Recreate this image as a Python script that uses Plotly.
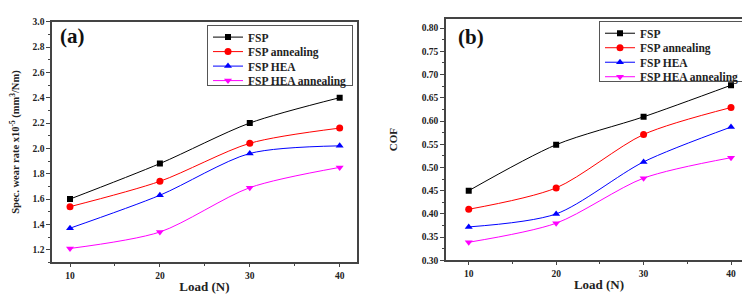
import plotly.graph_objects as go

loads = [10, 20, 30, 40]
series_names = ["FSP", "FSP annealing", "FSP HEA", "FSP HEA annealing"]
wear_fsp = [1.60, 1.88, 2.20, 2.40]
wear_fsp_ann = [1.54, 1.74, 2.04, 2.16]
wear_hea = [1.37, 1.63, 1.96, 2.02]
wear_hea_ann = [1.21, 1.34, 1.69, 1.85]
cof_fsp = [0.450, 0.549, 0.609, 0.677]
cof_fsp_ann = [0.410, 0.456, 0.571, 0.629]
cof_hea = [0.372, 0.400, 0.512, 0.587]
cof_hea_ann = [0.339, 0.380, 0.477, 0.521]

colors = ["#000000", "#ff0000", "#0000ff", "#ff00ff"]
symbols = ["square", "circle", "triangle-up", "triangle-down"]
sizes = [6, 7, 7, 7]
FONT = "Liberation Serif"

fig = go.Figure()
for i, ys in enumerate([wear_fsp, wear_fsp_ann, wear_hea, wear_hea_ann]):
    fig.add_trace(go.Scatter(
        x=loads, y=ys, name=series_names[i], mode="lines+markers",
        line=dict(color=colors[i], width=1, shape="spline", smoothing=0.8),
        marker=dict(color=colors[i], symbol=symbols[i], size=sizes[i]),
        xaxis="x", yaxis="y", legend="legend"))
for i, ys in enumerate([cof_fsp, cof_fsp_ann, cof_hea, cof_hea_ann]):
    fig.add_trace(go.Scatter(
        x=loads, y=ys, name=series_names[i], mode="lines+markers",
        line=dict(color=colors[i], width=1, shape="spline", smoothing=0.8),
        marker=dict(color=colors[i], symbol=symbols[i], size=sizes[i]),
        xaxis="x2", yaxis="y2", legend="legend2"))

axis_common = dict(
    showline=True, linecolor="#444444", linewidth=1.5, mirror=True,
    ticks="outside", tickwidth=1, tickcolor="#444444",
    showgrid=False, zeroline=False,
    tickfont=dict(family=FONT, size=9.5, color="#222222", weight="bold"),
    minor=dict(ticks="outside", ticklen=2, tickcolor="#444444"),
)
title_font = dict(family=FONT, size=13, color="#222222", weight="bold")
legend_font = dict(family=FONT, size=11.5, color="#222222", weight="bold")

fig.update_layout(
    width=750, height=299,
    margin=dict(l=0, r=0, t=0, b=0),
    paper_bgcolor="white", plot_bgcolor="white",
    font=dict(family=FONT, color="#222222"),
    xaxis=dict(domain=[0.0587, 0.465], range=[8, 41.9], tickvals=loads, anchor="y", ticklen=3,
               title=dict(text="Load (N)", font=title_font, standoff=2),
               minor_dtick=5, **axis_common),
    yaxis=dict(domain=[0.137, 0.970], range=[1.1, 3.0], dtick=0.2, tickformat=".1f", anchor="x", ticklen=4,
               title=dict(text="Spec. wear rate x10<sup>-5</sup> (mm<sup>3</sup>/Nm)",
                          font=dict(family=FONT, size=10.5, color="#222222", weight="bold"),
                          standoff=14),
               minor_dtick=0.1, **axis_common),
    xaxis2=dict(domain=[0.584, 0.992], range=[7.4, 42.4], tickvals=loads, anchor="y2", ticklen=3,
                title=dict(text="Load (N)", font=title_font, standoff=2),
                minor_dtick=5, **axis_common),
    yaxis2=dict(domain=[0.144, 0.980], range=[0.30, 0.82], dtick=0.05, tickformat=".2f", anchor="x2", ticklen=4,
                title=dict(text="COF", font=dict(family=FONT, size=11, color="#222222", weight="bold"),
                           standoff=22),
                minor_dtick=0.025, **axis_common),
    legend=dict(x=345/750, y=1-12/299, xanchor="right", yanchor="top",
                bgcolor="white", bordercolor="#555555", borderwidth=1, itemwidth=30,
                font=legend_font, tracegroupgap=0),
    legend2=dict(x=737/750, y=1-8/299, xanchor="right", yanchor="top",
                 bgcolor="white", bordercolor="#555555", borderwidth=1, itemwidth=30,
                 font=legend_font, tracegroupgap=0),
    annotations=[
        dict(text="(a)", x=50/750, y=1-24/299, xref="paper", yref="paper",
             xanchor="left", yanchor="middle", showarrow=False,
             font=dict(family=FONT, size=21, color="#111111", weight="bold")),
        dict(text="(b)", x=448/750, y=1-25/299, xref="paper", yref="paper",
             xanchor="left", yanchor="middle", showarrow=False,
             font=dict(family=FONT, size=21, color="#111111", weight="bold")),
    ],
)

# Tighten legend rows to the reference's compact spacing (plotly's minimum row is 19 px).
post_js = """
(function(){
  var gd = document.getElementById('{plot_id}');
  if(!gd) return;
  var STEP = 14.5, SHIFT = -3, SHRINK = 27;
  function fix(){
    var all = gd.querySelectorAll('g');
    var legs = [];
    all.forEach(function(g){
      var c = g.getAttribute('class') || '';
      if(/^legend\\d*$/.test(c)) legs.push(g);
    });
    legs.forEach(function(leg){
      var traces = leg.querySelectorAll('g.traces');
      if(traces.length < 2) return;
      var ys = [];
      traces.forEach(function(t){
        var orig = t.getAttribute('data-orig-t');
        if(!orig){ orig = t.getAttribute('transform') || ''; t.setAttribute('data-orig-t', orig); }
        var m = orig.match(/translate\\(\\s*([-\\d.e]+)[\\s,]+([-\\d.e]+)\\s*\\)/);
        ys.push(m ? [m[1], parseFloat(m[2])] : null);
      });
      if(!ys[0]) return;
      var y0 = ys[0][1];
      traces.forEach(function(t, i){
        if(!ys[i]) return;
        t.setAttribute('transform', 'translate(' + ys[i][0] + ',' + (y0 + SHIFT + i*STEP) + ')');
      });
      var bg = leg.querySelector('rect.bg');
      if(bg){
        var oh = bg.getAttribute('data-orig-h');
        if(!oh){ oh = bg.getAttribute('height'); bg.setAttribute('data-orig-h', oh); }
        bg.setAttribute('height', parseFloat(oh) - SHRINK);
      }
    });
  }
  fix();
  setTimeout(fix, 30);
  setTimeout(fix, 300);
  if(gd.on) gd.on('plotly_afterplot', fix);
})();
"""

fig.write_html("out.html", post_script=post_js)
